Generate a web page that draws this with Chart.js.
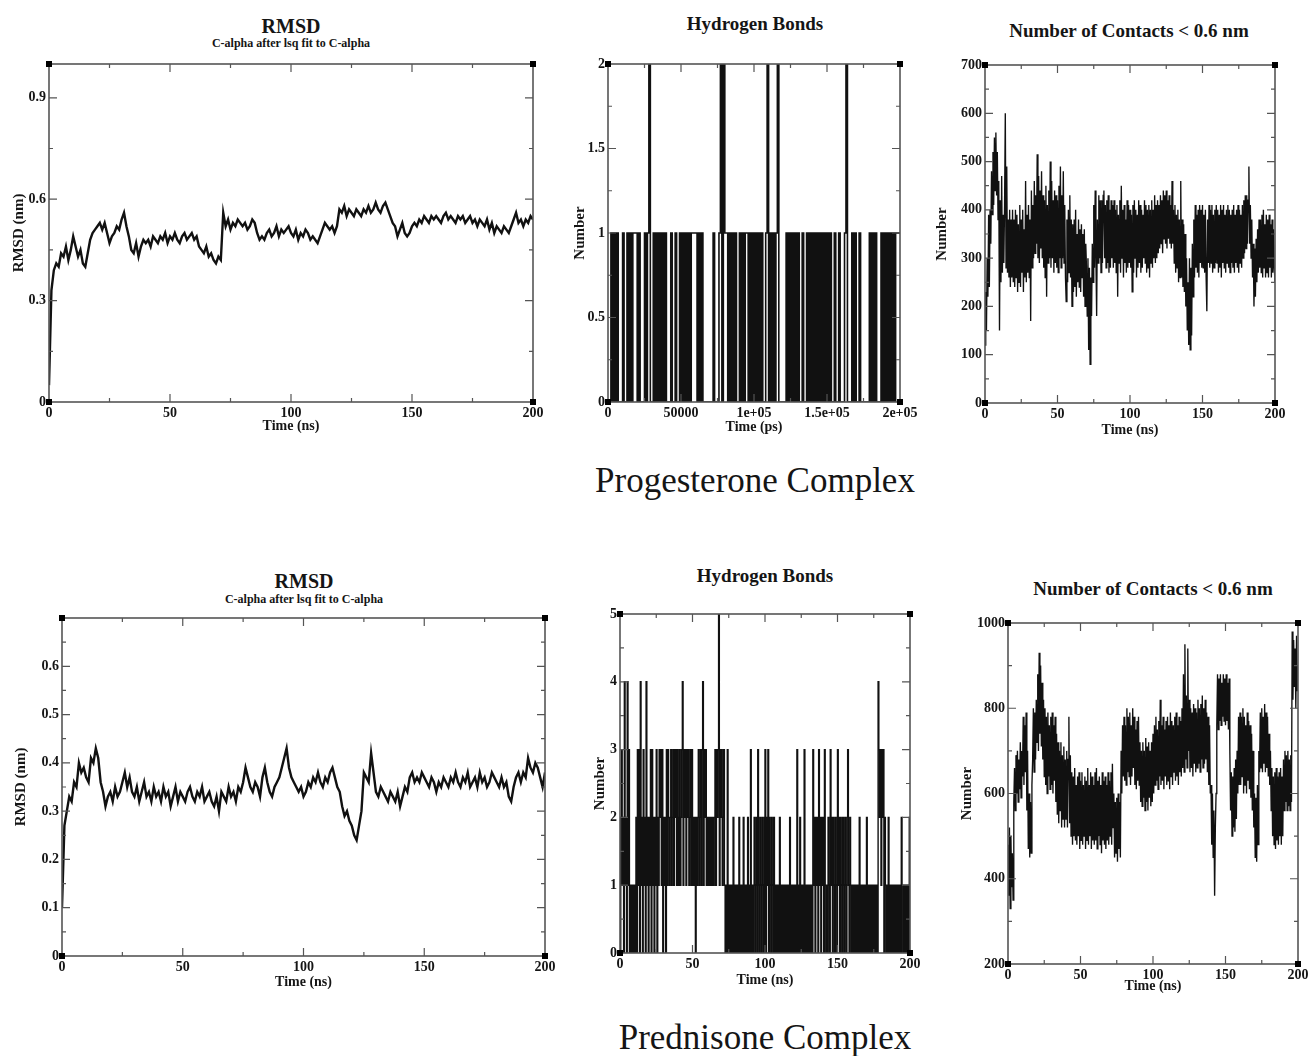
<!DOCTYPE html>
<html>
<head>
<meta charset="utf-8">
<script src="https://cdn.jsdelivr.net/npm/chart.js@4.4.1/dist/chart.umd.min.js"></script>
<style>
  body { margin: 0; background: #fff; width: 1309px; height: 1056px; position: relative; overflow: hidden;
         font-family: "Liberation Serif", "DejaVu Serif", serif; }
  .t { position: absolute; transform: translate(-50%, -50%); white-space: nowrap; color: #151515; font-weight: bold; }
  .big { font-weight: normal; font-size: 35px; }
  canvas { position: absolute; }
</style>
</head>
<body>
<div class="t" style="left:291px;top:26px;font-size:20px">RMSD</div>
<div class="t" style="left:291px;top:43px;font-size:12px">C-alpha after lsq fit to C-alpha</div>
<div class="t" style="left:755px;top:24px;font-size:19px">Hydrogen Bonds</div>
<div class="t" style="left:1129px;top:31px;font-size:19px">Number of Contacts &lt; 0.6 nm</div>
<div class="t big" style="left:755px;top:481px">Progesterone Complex</div>

<div class="t" style="left:304px;top:581px;font-size:20px">RMSD</div>
<div class="t" style="left:304px;top:599px;font-size:12px">C-alpha after lsq fit to C-alpha</div>
<div class="t" style="left:765px;top:576px;font-size:19px">Hydrogen Bonds</div>
<div class="t" style="left:1153px;top:589px;font-size:19px">Number of Contacts &lt; 0.6 nm</div>
<div class="t big" style="left:765px;top:1038px">Prednisone Complex</div>

<canvas id="c1"></canvas>
<canvas id="c2"></canvas>
<canvas id="c3"></canvas>
<canvas id="c4"></canvas>
<canvas id="c5"></canvas>
<canvas id="c6"></canvas>

<script>
// sampling grids: RMSD one frame per ns, contacts / prednisone H-bonds every 0.5 ns,
// the progesterone H-bond run is logged in ps
const timeNs = Array.from({ length: 201 }, (_, i) => i);
const timeHalfNs = Array.from({ length: 401 }, (_, i) => i / 2);
const timePs = timeNs.map(t => t * 1000);

// ---- Progesterone complex ----
const rmsdProg = [
  0.05, 0.33, 0.39, 0.41, 0.40, 0.44, 0.43, 0.46, 0.42, 0.45,
  0.49, 0.46, 0.43, 0.45, 0.41, 0.40, 0.44, 0.48, 0.50, 0.51,
  0.52, 0.53, 0.51, 0.53, 0.50, 0.47, 0.49, 0.50, 0.52, 0.51,
  0.54, 0.56, 0.52, 0.49, 0.45, 0.44, 0.47, 0.43, 0.46, 0.48,
  0.47, 0.48, 0.46, 0.49, 0.48, 0.47, 0.49, 0.48, 0.50, 0.47,
  0.49, 0.48, 0.50, 0.48, 0.47, 0.49, 0.50, 0.48, 0.49, 0.50,
  0.48, 0.49, 0.46, 0.45, 0.44, 0.46, 0.43, 0.44, 0.42, 0.41,
  0.43, 0.42, 0.56, 0.52, 0.54, 0.51, 0.53, 0.52, 0.54, 0.53,
  0.52, 0.53, 0.51, 0.52, 0.54, 0.53, 0.50, 0.48, 0.49, 0.48,
  0.50, 0.51, 0.49, 0.50, 0.52, 0.49, 0.51, 0.50, 0.51, 0.52,
  0.50, 0.49, 0.51, 0.48, 0.50, 0.49, 0.51, 0.50, 0.48, 0.49,
  0.48, 0.47, 0.49, 0.51, 0.53, 0.52, 0.51, 0.52, 0.50, 0.52,
  0.57, 0.56, 0.58, 0.55, 0.57, 0.56, 0.55, 0.57, 0.56, 0.55,
  0.57, 0.56, 0.58, 0.56, 0.57, 0.59, 0.57, 0.56, 0.58, 0.59,
  0.57, 0.55, 0.53, 0.52, 0.49, 0.51, 0.53, 0.50, 0.49, 0.50,
  0.52, 0.53, 0.52, 0.54, 0.53, 0.55, 0.54, 0.53, 0.55, 0.54,
  0.55, 0.54, 0.53, 0.55, 0.56, 0.54, 0.55, 0.54, 0.53, 0.55,
  0.54, 0.55, 0.53, 0.54, 0.55, 0.53, 0.54, 0.52, 0.54, 0.53,
  0.52, 0.54, 0.51, 0.53, 0.50, 0.52, 0.51, 0.50, 0.52, 0.51,
  0.50, 0.52, 0.54, 0.56, 0.53, 0.54, 0.52, 0.54, 0.53, 0.55,
  0.54
];
const hbondProg = [
  0, 0, 1, 0, 1, 0, 1, 0, 0, 0,
  1, 0, 0, 1, 0, 1, 0, 1, 1, 1,
  0, 1, 0, 0, 0, 1, 0, 1, 2, 0,
  0, 1, 0, 1, 0, 1, 0, 1, 0, 1,
  0, 0, 0, 1, 0, 0, 1, 0, 0, 1,
  0, 1, 0, 1, 0, 1, 0, 1, 1, 1,
  1, 0, 1, 0, 1, 0, 0, 0, 0, 0,
  0, 0, 1, 0, 0, 0, 1, 2, 0, 2,
  1, 1, 0, 1, 0, 1, 0, 1, 0, 0,
  1, 0, 1, 0, 1, 1, 0, 1, 0, 1,
  0, 1, 0, 1, 0, 1, 0, 0, 1, 2,
  0, 1, 0, 1, 0, 1, 2, 0, 0, 0,
  0, 0, 1, 0, 1, 0, 1, 0, 1, 0,
  1, 0, 0, 1, 0, 0, 1, 0, 1, 0,
  1, 0, 1, 0, 1, 0, 1, 0, 1, 0,
  1, 0, 1, 0, 0, 1, 0, 0, 1, 0,
  0, 0, 1, 2, 0, 0, 0, 1, 0, 1,
  0, 0, 1, 0, 0, 0, 0, 0, 0, 1,
  0, 1, 0, 1, 0, 0, 0, 1, 0, 1,
  0, 1, 0, 1, 0, 1, 0, 1, 1, 1,
  1
];
const contactsProg = [
  120, 230, 150, 300, 220, 390, 240, 400, 330, 480, 390, 520, 410, 550, 440, 560, 430, 520, 380, 460,
  150, 420, 250, 470, 270, 390, 290, 410, 600, 280, 490, 270, 380, 260, 400, 240, 380, 260, 400, 250,
  380, 240, 400, 260, 390, 230, 370, 250, 410, 240, 380, 270, 400, 230, 360, 260, 460, 250, 390, 270,
  410, 260, 380, 170, 440, 280, 410, 300, 460, 310, 430, 330, 515, 300, 470, 290, 440, 320, 480, 300,
  430, 280, 420, 260, 450, 220, 410, 290, 440, 300, 500, 280, 460, 300, 420, 270, 440, 290, 430, 280,
  420, 270, 450, 300, 490, 280, 430, 300, 480, 290, 410, 260, 210, 380, 250, 400, 270, 430, 260, 380,
  200, 370, 230, 380, 240, 400, 220, 350, 250, 380, 240, 360, 230, 370, 260, 350, 220, 360, 200, 330,
  280, 180, 300, 110, 280, 80, 260, 180, 330, 250, 410, 280, 440, 300, 180, 380, 290, 430, 300, 420,
  270, 420, 290, 430, 440, 300, 410, 280, 420, 290, 430, 270, 400, 280, 420, 300, 410, 280, 420, 290,
  400, 270, 410, 220, 390, 290, 420, 270, 450, 300, 400, 260, 410, 290, 380, 270, 420, 280, 410, 290,
  400, 280, 390, 230, 410, 270, 420, 300, 400, 260, 390, 280, 420, 290, 410, 270, 400, 280, 390, 300,
  420, 290, 410, 270, 400, 280, 410, 260, 400, 290, 420, 280, 400, 300, 430, 290, 410, 300, 420, 310,
  410, 320, 430, 330, 420, 310, 440, 340, 430, 330, 440, 320, 420, 340, 430, 330, 410, 320, 460, 330,
  400, 290, 410, 270, 390, 280, 400, 250, 380, 260, 460, 260, 380, 240, 370, 230, 350, 200, 300, 150,
  250, 120, 300, 110, 280, 140, 330, 220, 380, 260, 410, 280, 390, 270, 400, 260, 410, 290, 400, 280,
  410, 280, 390, 270, 400, 260, 190, 380, 290, 410, 280, 400, 290, 410, 270, 390, 280, 400, 290, 410,
  290, 400, 270, 390, 280, 410, 260, 400, 290, 410, 280, 390, 270, 400, 290, 410, 280, 400, 270, 390,
  290, 400, 280, 410, 270, 390, 290, 400, 280, 410, 270, 400, 290, 390, 280, 410, 300, 420, 310, 430,
  320, 430, 330, 420, 490, 330, 410, 300, 380, 260, 330, 200, 320, 220, 340, 250, 360, 270, 380, 280,
  380, 270, 390, 260, 400, 280, 370, 260, 390, 270, 380, 260, 390, 280, 370, 260, 380, 270, 360, 280,
  250
];

// ---- Prednisone complex ----
const rmsdPred = [
  0.10, 0.27, 0.30, 0.33, 0.32, 0.36, 0.35, 0.40, 0.38, 0.39,
  0.37, 0.36, 0.41, 0.40, 0.43, 0.41, 0.36, 0.34, 0.31, 0.33,
  0.34, 0.32, 0.35, 0.33, 0.34, 0.36, 0.38, 0.35, 0.37, 0.34,
  0.33, 0.35, 0.32, 0.34, 0.36, 0.33, 0.34, 0.32, 0.35, 0.33,
  0.34, 0.32, 0.35, 0.33, 0.34, 0.31, 0.33, 0.35, 0.32, 0.34,
  0.33, 0.32, 0.34, 0.35, 0.33, 0.32, 0.34, 0.33, 0.35, 0.32,
  0.33, 0.34, 0.32, 0.31, 0.33, 0.30, 0.34, 0.33, 0.32, 0.35,
  0.33, 0.34, 0.32, 0.35, 0.34, 0.36, 0.39, 0.37, 0.35, 0.34,
  0.36, 0.35, 0.33, 0.37, 0.39, 0.36, 0.34, 0.33, 0.35, 0.36,
  0.37, 0.39, 0.41, 0.43, 0.39, 0.37, 0.36, 0.35, 0.34, 0.35,
  0.33, 0.34, 0.36, 0.35, 0.37, 0.36, 0.38, 0.36, 0.35, 0.37,
  0.36, 0.38, 0.39, 0.37, 0.35, 0.34, 0.31, 0.29, 0.30, 0.28,
  0.27, 0.25, 0.24, 0.27, 0.30, 0.38, 0.37, 0.36, 0.42, 0.38,
  0.34, 0.33, 0.35, 0.34, 0.33, 0.32, 0.34, 0.33, 0.32, 0.34,
  0.31, 0.33, 0.35, 0.34, 0.37, 0.38, 0.36, 0.37, 0.36, 0.38,
  0.37, 0.36, 0.35, 0.37, 0.36, 0.34, 0.36, 0.35, 0.37, 0.36,
  0.35, 0.37, 0.36, 0.38, 0.36, 0.35, 0.37, 0.36, 0.38, 0.35,
  0.36, 0.37, 0.35, 0.38, 0.36, 0.37, 0.35, 0.36, 0.38, 0.37,
  0.36, 0.35, 0.37, 0.35, 0.36, 0.33, 0.32, 0.35, 0.37, 0.38,
  0.36, 0.38, 0.37, 0.41, 0.39, 0.38, 0.40, 0.39, 0.37, 0.35,
  0.38
];
const hbondPred = [
  0, 2, 3, 1, 2, 0, 4, 1, 2, 0, 4, 1, 3, 0, 1, 0, 1, 0, 1, 0,
  1, 0, 2, 0, 3, 1, 3, 0, 4, 1, 2, 0, 3, 1, 2, 0, 4, 1, 2, 0,
  2, 1, 3, 0, 3, 1, 2, 0, 2, 1, 3, 0, 2, 1, 3, 2, 3, 1, 3, 0,
  2, 1, 2, 0, 3, 1, 3, 2, 1, 2, 3, 1, 2, 3, 1, 3, 2, 3, 1, 3,
  2, 1, 3, 1, 2, 3, 4, 1, 3, 2, 3, 1, 3, 2, 3, 1, 2, 3, 1, 3,
  1, 2, 1, 2, 0, 2, 1, 2, 3, 1, 2, 3, 1, 3, 4, 1, 3, 2, 3, 1,
  2, 1, 2, 1, 2, 1, 2, 1, 2, 1, 2, 3, 1, 3, 2, 3, 5, 1, 3, 2,
  3, 1, 2, 3, 1, 0, 1, 0, 3, 0, 1, 0, 1, 0, 1, 0, 2, 0, 1, 0,
  1, 0, 1, 0, 2, 0, 1, 0, 1, 0, 2, 0, 1, 0, 1, 0, 2, 0, 1, 0,
  3, 0, 1, 0, 1, 2, 0, 1, 2, 0, 3, 1, 0, 2, 1, 0, 2, 1, 0, 2,
  3, 0, 2, 1, 3, 0, 2, 1, 0, 2, 1, 0, 2, 0, 1, 0, 1, 0, 1, 0,
  2, 0, 1, 0, 1, 0, 1, 0, 1, 0, 1, 0, 1, 0, 2, 0, 1, 0, 1, 0,
  1, 0, 1, 0, 3, 0, 1, 0, 2, 0, 1, 0, 1, 0, 3, 0, 1, 0, 1, 0,
  1, 0, 1, 0, 1, 0, 3, 1, 2, 0, 2, 1, 2, 0, 3, 1, 2, 0, 2, 1,
  2, 0, 3, 1, 0, 1, 0, 2, 1, 0, 3, 1, 2, 0, 2, 1, 0, 2, 1, 0,
  3, 1, 2, 0, 2, 1, 0, 2, 1, 0, 2, 1, 0, 2, 3, 1, 0, 2, 1, 0,
  1, 0, 1, 0, 1, 0, 1, 0, 1, 0, 2, 0, 1, 0, 1, 0, 1, 0, 1, 0,
  2, 0, 1, 0, 1, 0, 1, 0, 1, 0, 1, 0, 1, 0, 1, 0, 4, 3, 2, 3,
  1, 3, 2, 3, 0, 2, 1, 0, 1, 0, 2, 0, 1, 0, 1, 0, 1, 0, 1, 0,
  1, 0, 1, 0, 1, 0, 1, 0, 2, 1, 0, 1, 0, 1, 0, 1, 0, 1, 0, 2,
  2
];
const contactsPred = [
  480, 360, 520, 330, 500, 380, 460, 350, 580, 660, 560, 690, 600, 700, 580, 680, 610, 720, 590, 700,
  640, 780, 620, 760, 650, 790, 560, 700, 470, 600, 450, 580, 460, 620, 680, 800, 650, 790, 680, 820,
  720, 880, 700, 930, 740, 900, 710, 860, 680, 820, 640, 800, 620, 780, 600, 790, 640, 760, 610, 780,
  620, 790, 600, 760, 630, 780, 580, 740, 550, 720, 530, 700, 560, 720, 520, 690, 540, 710, 520, 680,
  540, 700, 520, 680, 780, 530, 690, 500, 650, 480, 640, 500, 660, 490, 620, 480, 640, 500, 650, 470,
  630, 490, 650, 480, 620, 500, 640, 470, 630, 490, 660, 480, 620, 500, 650, 470, 640, 490, 620, 480,
  650, 490, 660, 470, 630, 500, 640, 480, 620, 460, 650, 490, 630, 480, 640, 470, 620, 490, 650, 480,
  630, 500, 650, 480, 670, 520, 600, 450, 580, 460, 590, 440, 600, 470, 580, 450, 700, 600, 760, 640,
  780, 630, 760, 620, 800, 650, 780, 640, 790, 620, 760, 640, 800, 660, 780, 620, 750, 610, 770, 630,
  780, 620, 720, 580, 700, 570, 720, 590, 700, 560, 730, 580, 710, 560, 720, 590, 700, 570, 720, 580,
  740, 600, 760, 620, 780, 630, 750, 610, 770, 640, 820, 620, 760, 630, 780, 610, 750, 640, 770, 620,
  780, 630, 760, 610, 790, 640, 770, 620, 760, 650, 780, 630, 790, 640, 760, 620, 780, 650, 770, 640,
  800, 660, 880, 650, 950, 680, 830, 660, 940, 700, 820, 650, 800, 660, 790, 640, 810, 670, 800, 650,
  790, 660, 820, 670, 800, 650, 810, 680, 830, 660, 800, 670, 820, 680, 790, 650, 780, 620, 760, 600,
  620, 480, 600, 450, 560, 360, 520, 600, 760, 880, 750, 870, 770, 880, 760, 860, 780, 880, 770, 870,
  760, 880, 770, 860, 750, 870, 700, 560, 650, 500, 640, 520, 660, 510, 680, 540, 700, 600, 780, 620,
  790, 620, 780, 640, 800, 600, 780, 620, 760, 600, 790, 630, 770, 610, 760, 590, 740, 560, 700, 520,
  600, 450, 590, 440, 620, 480, 700, 650, 790, 660, 800, 650, 780, 670, 810, 650, 790, 660, 780, 640,
  740, 620, 700, 560, 660, 500, 640, 480, 650, 470, 660, 490, 640, 480, 650, 500, 660, 480, 640, 500,
  680, 560, 700, 580, 690, 560, 700, 570, 680, 560, 690, 580, 980, 820, 960, 850, 940, 800, 970, 840,
  900
];

// ---- tick values / labels ----
const nsTicks = [0, 50, 100, 150, 200];
const nsLabels = ['0', '50', '100', '150', '200'];
const psTicks = [0, 50000, 100000, 150000, 200000];
const psLabels = ['0', '50000', '1e+05', '1.5e+05', '2e+05'];
const rmsdProgTicks = [0, 0.3, 0.6, 0.9];
const rmsdProgLabels = ['0', '0.3', '0.6', '0.9'];
const hbondProgTicks = [0, 0.5, 1, 1.5, 2];
const hbondProgLabels = ['0', '0.5', '1', '1.5', '2'];
const contactsProgTicks = [0, 100, 200, 300, 400, 500, 600, 700];
const contactsProgLabels = ['0', '100', '200', '300', '400', '500', '600', '700'];
const rmsdPredTicks = [0, 0.1, 0.2, 0.3, 0.4, 0.5, 0.6];
const rmsdPredLabels = ['0', '0.1', '0.2', '0.3', '0.4', '0.5', '0.6'];
const hbondPredTicks = [0, 1, 2, 3, 4, 5];
const hbondPredLabels = ['0', '1', '2', '3', '4', '5'];
const contactsPredTicks = [200, 400, 600, 800, 1000];
const contactsPredLabels = ['200', '400', '600', '800', '1000'];

const SERIF = '"Liberation Serif", "DejaVu Serif", serif';
const INK = '#151515';
const R = 28, T = 12;

// xmgrace-like frame: inward ticks on all four sides, corner squares
const graceFrame = {
  id: 'graceFrame',
  afterDatasetsDraw(chart, args, opts) {
    const { ctx, chartArea: a, scales: { x, y } } = chart;
    ctx.save();
    ctx.strokeStyle = '#555';
    ctx.lineWidth = 1.6;
    ctx.strokeRect(a.left, a.top, a.right - a.left, a.bottom - a.top);
    ctx.lineWidth = 1.2;
    const marks = (scale, step) => {
      const out = [];
      const majors = scale.ticks.map(t => t.value);
      const eps = (scale.max - scale.min) * 1e-6;
      for (let k = 1; scale.min + k * step < scale.max - eps; k++) {
        const v = scale.min + k * step;
        const isMajor = majors.some(m => Math.abs(m - v) < eps);
        out.push([scale.getPixelForValue(v), isMajor ? 8 : 4]);
      }
      return out;
    };
    ctx.beginPath();
    marks(x, opts.xMinor).forEach(([px, len]) => {
      ctx.moveTo(px, a.bottom); ctx.lineTo(px, a.bottom - len);
      ctx.moveTo(px, a.top); ctx.lineTo(px, a.top + len);
    });
    marks(y, opts.yMinor).forEach(([py, len]) => {
      ctx.moveTo(a.left, py); ctx.lineTo(a.left + len, py);
      ctx.moveTo(a.right, py); ctx.lineTo(a.right - len, py);
    });
    ctx.stroke();
    ctx.fillStyle = '#000';
    const s = 6;
    [[a.left, a.top], [a.right, a.top], [a.left, a.bottom], [a.right, a.bottom]].forEach(([cx, cy]) => {
      ctx.fillRect(cx - s / 2, cy - s / 2, s, s);
    });
    ctx.restore();
  }
};

function axis(pos, min, max, tickVals, tickLabels, title, size) {
  const horizontal = pos === 'bottom';
  return {
    type: 'linear',
    position: pos,
    min, max,
    grid: { display: false, drawTicks: false },
    border: { display: false },
    afterBuildTicks: s => { s.ticks = tickVals.map(v => ({ value: v })); },
    afterFit: s => { if (horizontal) s.height = size; else s.width = size; },
    ticks: {
      autoSkip: false, maxRotation: 0, padding: 3, color: INK,
      font: { family: SERIF, size: 14, weight: 'bold' },
      callback: (v, i) => tickLabels[i]
    },
    title: {
      display: true, text: title, color: INK, padding: 0,
      font: { family: SERIF, size: horizontal ? 14 : 15, weight: 'bold', lineHeight: 1 }
    }
  };
}

function makePanel(id, box, xs, values, xAxis, yAxis, minors, line) {
  const w = box.L + (box.right - box.left) + R;
  const h = T + (box.bottom - box.top) + box.B;
  const cv = document.getElementById(id);
  cv.width = w; cv.height = h;
  cv.style.left = (box.left - box.L) + 'px';
  cv.style.top = (box.top - T) + 'px';
  cv.style.width = w + 'px'; cv.style.height = h + 'px';
  return new Chart(cv, {
    type: 'line',
    data: {
      datasets: [{
        data: values.map((v, i) => ({ x: xs[i], y: v })),
        borderColor: line.color || '#111',
        borderWidth: line.width,
        stepped: line.stepped || false,
        pointRadius: 0,
        tension: 0,
        fill: false
      }]
    },
    options: {
      responsive: false,
      animation: false,
      events: [],
      layout: { padding: { left: 0, right: R, top: T, bottom: 0 } },
      plugins: { legend: { display: false }, tooltip: { enabled: false }, graceFrame: minors },
      scales: { x: xAxis, y: yAxis }
    },
    plugins: [graceFrame]
  });
}

makePanel('c1', { left: 49, right: 533, top: 64, bottom: 402, L: 37, B: 31 }, timeNs, rmsdProg,
  axis('bottom', 0, 200, nsTicks, nsLabels, 'Time (ns)', 31),
  axis('left', 0, 1, rmsdProgTicks, rmsdProgLabels, 'RMSD (nm)', 37),
  { xMinor: 25, yMinor: 0.15 }, { width: 2.4 });

makePanel('c2', { left: 608, right: 900, top: 64, bottom: 402, L: 35, B: 32 }, timePs, hbondProg,
  axis('bottom', 0, 200000, psTicks, psLabels, 'Time (ps)', 32),
  axis('left', 0, 2, hbondProgTicks, hbondProgLabels, 'Number', 35),
  { xMinor: 25000, yMinor: 0.25 }, { width: 1.6, stepped: true });

makePanel('c3', { left: 985, right: 1275, top: 65, bottom: 403, L: 50, B: 34 }, timeHalfNs, contactsProg,
  axis('bottom', 0, 200, nsTicks, nsLabels, 'Time (ns)', 34),
  axis('left', 0, 700, contactsProgTicks, contactsProgLabels, 'Number', 50),
  { xMinor: 25, yMinor: 50 }, { width: 1.35 });

makePanel('c4', { left: 62, right: 545, top: 618, bottom: 956, L: 48, B: 33 }, timeNs, rmsdPred,
  axis('bottom', 0, 200, nsTicks, nsLabels, 'Time (ns)', 33),
  axis('left', 0, 0.7, rmsdPredTicks, rmsdPredLabels, 'RMSD (nm)', 48),
  { xMinor: 25, yMinor: 0.05 }, { width: 2.4 });

makePanel('c5', { left: 620, right: 910, top: 614, bottom: 953, L: 27, B: 34 }, timeHalfNs, hbondPred,
  axis('bottom', 0, 200, nsTicks, nsLabels, 'Time (ns)', 34),
  axis('left', 0, 5, hbondPredTicks, hbondPredLabels, 'Number', 27),
  { xMinor: 25, yMinor: 0.5 }, { width: 1.4, stepped: true });

makePanel('c6', { left: 1008, right: 1298, top: 623, bottom: 964, L: 48, B: 29 }, timeHalfNs, contactsPred,
  axis('bottom', 0, 200, nsTicks, nsLabels, 'Time (ns)', 29),
  axis('left', 200, 1000, contactsPredTicks, contactsPredLabels, 'Number', 48),
  { xMinor: 25, yMinor: 100 }, { width: 1.35 });
</script>
</body>
</html>
